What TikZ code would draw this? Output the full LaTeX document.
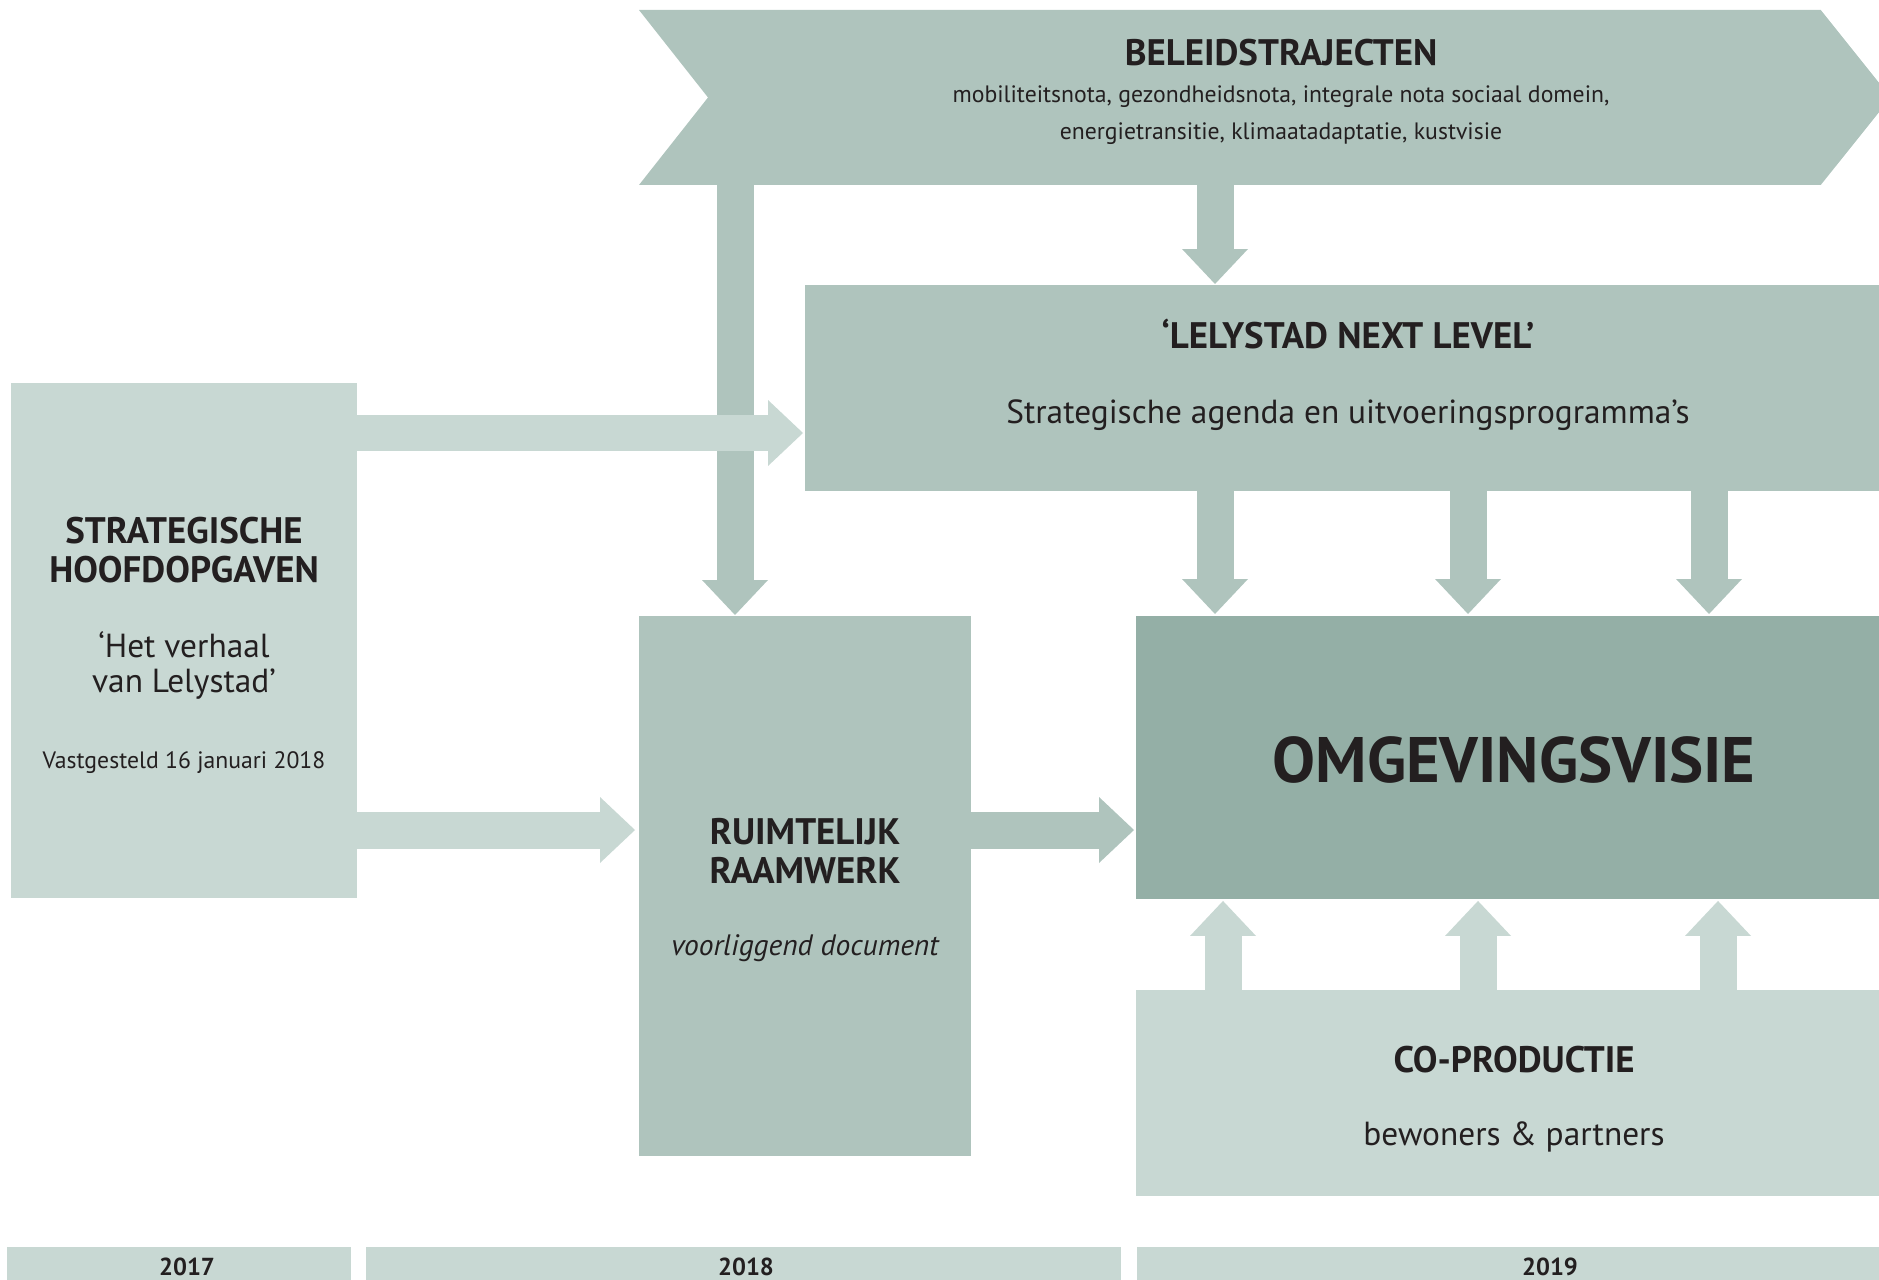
\documentclass[tikz,border=0pt]{standalone}
\usepackage{fontspec}
\setmainfont{PT Sans}
\usetikzlibrary{arrows.meta, calc}
\definecolor{paleteal}{HTML}{C8D8D3}
\definecolor{midteal}{HTML}{AFC4BD}
\definecolor{darkteal}{HTML}{94AFA6}
\definecolor{ink}{HTML}{231F20}

\begin{document}
\begin{tikzpicture}[
    x=0.02cm, y=-0.02cm,
    block/.style={rectangle, anchor=north west, inner sep=0pt, outer sep=0pt},
    head/.style={anchor=base, text=ink, align=center, font=\bfseries\fontsize{21}{22}\selectfont},
    body/.style={anchor=base, text=ink, align=center, font=\fontsize{19}{19.9}\selectfont},
    note/.style={anchor=base, text=ink, align=center, font=\fontsize{13.5}{21.6}\selectfont},
    yearlabel/.style={anchor=base, text=ink, font=\bfseries\fontsize{14}{14}\selectfont},
    flow/.style={line width=0.74cm, -{Triangle[length=0.7cm, width=1.32cm, line width=0pt]}},
]
    \useasboundingbox (0,0) rectangle (1879,1280);
    \clip (0,0) rectangle (1879,1280);

    % Beleidstrajecten (chevron band)
    \node[block, minimum width=25.04cm, minimum height=3.5cm] (beleid) at (639,10) {};
    \fill[midteal] (beleid.north west) -- ($(beleid.north east)+(-70,0)$) -- (beleid.east)
        -- ($(beleid.south east)+(-70,0)$) -- (beleid.south west) -- ($(beleid.west)+(69,0)$) -- cycle;

    % Blocks
    \node[block, fill=paleteal, minimum width=6.92cm, minimum height=10.3cm] (strat) at (11,383) {};
    \node[block, fill=midteal, minimum width=21.48cm, minimum height=4.12cm] (lely) at (805,285) {};
    \node[block, fill=midteal, minimum width=6.64cm, minimum height=10.8cm] (ruimte) at (639,616) {};
    \node[block, fill=darkteal, minimum width=14.86cm, minimum height=5.66cm] (omgeving) at (1136,616) {};
    \node[block, fill=paleteal, minimum width=14.86cm, minimum height=4.12cm] (coprod) at (1136,990) {};

    % Timeline
    \node[block, fill=paleteal, minimum width=6.88cm, minimum height=0.7cm] (bar2017) at (7,1247) {};
    \node[block, fill=paleteal, minimum width=15.1cm, minimum height=0.7cm] (bar2018) at (366,1247) {};
    \node[block, fill=paleteal, minimum width=14.84cm, minimum height=0.7cm] (bar2019) at (1137,1247) {};

    % Flows
    \draw[flow, midteal] ($(ruimte.north west |- beleid.south)+(96,-1)$) -- ($(ruimte.north west)+(96,-1)$);
    \draw[flow, midteal] ($(lely.north west |- beleid.south)+(410,-1)$) -- ($(lely.north west)+(410,-1)$);
    \draw[flow, paleteal] ($(strat.north east)+(-1,50)$) -- ($(lely.west |- strat.north east)+(-2,50)$);
    \draw[flow, paleteal] ($(strat.north east)+(-1,447)$) -- ($(ruimte.west |- strat.north east)+(-4,447)$);
    \draw[flow, midteal] ($(ruimte.north east)+(-1,214)$) -- ($(omgeving.north west)+(-2,214)$);
    \foreach \dx in {79,332,573}
        \draw[flow, midteal] ($(omgeving.north west |- lely.south)+(\dx,-1)$) -- ($(omgeving.north west)+(\dx,-2)$);
    \foreach \dx in {87,342,582}
        \draw[flow, paleteal] ($(coprod.north west)+(\dx,1)$) -- ($(omgeving.south west)+(\dx,2)$);

    % Texts
    \node[head] (beleidtitle) at (1281,66) {BELEIDSTRAJECTEN};
    \node[note] (beleidsub) at (1281,140) {mobiliteitsnota, gezondheidsnota, integrale nota sociaal domein,\\energietransitie, klimaatadaptatie, kustvisie};
    \node[head] (lelytitle) at (1348,349) {‘LELYSTAD NEXT LEVEL’};
    \node[body] (lelysub) at (1348,423) {Strategische agenda en uitvoeringsprogramma’s};
    \node[head] (strattitle) at (184,582) {STRATEGISCHE\\HOOFDOPGAVEN};
    \node[body] (stratsub) at (184,692) {‘Het verhaal\\van Lelystad’};
    \node[note] (stratdate) at (184,768) {Vastgesteld 16 januari 2018};
    \node[head] (ruimtetitle) at (805,883) {RUIMTELIJK\\RAAMWERK};
    \node[body, font=\itshape\fontsize{16.8}{19.9}\selectfont] (ruimtesub) at (805,955) {voorliggend document};
    \node[head, font=\bfseries\fontsize{36.6}{40}\selectfont] (omgevingtitle) at (1514,782) {OMGEVINGSVISIE};
    \node[head] (coprodtitle) at (1514,1072) {CO-PRODUCTIE};
    \node[body] (coprodsub) at (1514,1145) {bewoners \& partners};
    \node[yearlabel] (t2017) at (187,1275) {2017};
    \node[yearlabel] (t2018) at (746,1275) {2018};
    \node[yearlabel] (t2019) at (1550,1275) {2019};
\end{tikzpicture}
\end{document}
